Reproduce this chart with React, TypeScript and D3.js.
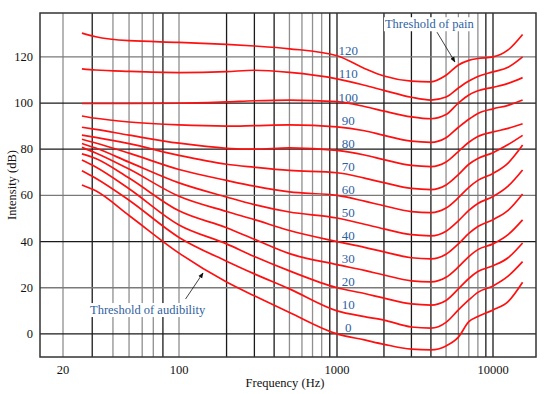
import * as d3 from 'd3'

const freqs = [26, 31.5, 50, 100, 200, 300, 500, 1000, 1500, 2000, 3000, 4000, 5000, 6000, 7000, 8000, 10000, 12500, 15500]

// sound level (dB) of each equal-loudness contour at those frequencies
const phon120 = [130.3, 128.7, 127, 126.3, 125.4, 124.7, 123.5, 120.5, 115, 111.7, 109.5, 109.2, 112, 116.5, 118.5, 119.3, 120, 123, 129.7]
const phon110 = [114.8, 114.3, 113.7, 113.2, 113.6, 114.2, 113.3, 110.5, 107.7, 105.5, 102.5, 101.3, 102.6, 106.5, 109.5, 111.5, 113.5, 115.5, 120]
const phon100 = [99.8, 99.8, 99.8, 99.9, 100.5, 101, 101.3, 100.6, 98.5, 96.5, 94, 93.2, 95, 100, 103.5, 105.3, 106.8, 108.5, 111]
const phon90 = [94.4, 93.4, 91.8, 90.5, 90, 90.2, 90.5, 89.7, 88, 86, 83.5, 83, 85, 89.5, 93, 95.5, 97.5, 99, 101.3]
const phon80 = [89.5, 88.6, 86.1, 82.6, 80.4, 80, 80.6, 79.5, 77.5, 75.5, 73, 72.5, 74.5, 79, 83, 85.5, 87.5, 89, 91]
const phon70 = [86.1, 85.1, 82.4, 77.3, 73.5, 72.2, 70.8, 69.8, 67.5, 65.5, 63, 62.5, 64.5, 69, 73.5, 76, 78.5, 82, 86]
const phon60 = [84.3, 82.7, 78.3, 71.2, 66.5, 64, 61.5, 60, 57.5, 55.5, 53, 52.5, 54.5, 59, 63.5, 66.5, 69.5, 74, 81.8]
const phon50 = [82.5, 80.5, 74.4, 65.4, 59.3, 56, 52.8, 50.2, 47.5, 45.5, 43, 42.5, 44.5, 49, 53.5, 56.5, 59.5, 64, 71]
const phon40 = [80.8, 78.4, 71.4, 59.6, 53, 49.5, 44.8, 40, 37.5, 35.5, 33, 32.5, 34.5, 39, 43.5, 46.5, 49.5, 53.5, 60.6]
const phon30 = [78, 76, 67.5, 53.3, 46, 41, 34.8, 30, 27.5, 25.5, 23, 22.5, 24.5, 29, 33.5, 36.5, 39, 43, 49.4]
const phon20 = [75.3, 72.3, 62.9, 47.2, 39, 33.5, 27.3, 20, 17.5, 15.5, 13, 12.5, 14.5, 19.5, 24, 27, 29.5, 33, 39.4]
const phon10 = [70.7, 67.4, 57.9, 41.8, 31.5, 26, 19.5, 10, 7.5, 6, 3, 2.5, 5, 10.4, 14.7, 18, 20.8, 25, 31.3]
const phon0 = [64.5, 62, 51.3, 35, 22.5, 16.5, 9.3, 0, -2.6, -4.5, -6.6, -6.9, -5.2, -1.4, 5.3, 7.5, 10.4, 14, 22.4]

const contours = [
  { phon: 120, levels: phon120 },
  { phon: 110, levels: phon110 },
  { phon: 100, levels: phon100 },
  { phon: 90, levels: phon90 },
  { phon: 80, levels: phon80 },
  { phon: 70, levels: phon70 },
  { phon: 60, levels: phon60 },
  { phon: 50, levels: phon50 },
  { phon: 40, levels: phon40 },
  { phon: 30, levels: phon30 },
  { phon: 20, levels: phon20 },
  { phon: 10, levels: phon10 },
  { phon: 0, levels: phon0 },
]

const xTickLabels = [20, 100, 1000, 10000]
const yTickLabels = [0, 20, 40, 60, 80, 100, 120]
const gridFreqs = [20, 30, 40, 50, 60, 70, 80, 100, 200, 300, 400, 500, 600, 700, 800, 900, 1000,
  2000, 3000, 4000, 5000, 6000, 7000, 8000, 9000, 10000]
const darkGridFreqs = [30, 80, 200, 300, 400, 900, 1000, 2000, 3000, 4000, 9000, 10000]
const darkGridLevels = [0, 40, 80, 100]

const labelFreq = 1180
const painNote = { text: 'Threshold of pain', at: [2030, 132.4], from: [4375, 130.7], to: [5700, 117.8] }
const audNote = { text: 'Threshold of audibility', at: [29.1, 8.6], from: [110, 15.1], to: [142, 26.4] }

const W = 550
const H = 394

export default function App() {
  // the printed figure's decades are not exactly even, so the log scale is piecewise
  const x = d3.scaleLog()
    .domain([14.6, 20, 100, 1000, 10000, 18900])
    .range([40, 63, 179, 337, 493, 536])
  const y = d3.scaleLinear().domain([-10, 139]).range([357, 13])
  const [x0, x1] = [x.range()[0], x.range()[5]]
  const [yb, yt] = y.range()

  const line = d3.line<number>()
    .x((_, i) => x(freqs[i]))
    .y((d) => y(d))
    .curve(d3.curveMonotoneX)

  const blue = '#2f5f9f'
  const serif = '"Liberation Serif", "Times New Roman", serif'

  return (
    <svg width={W} height={H} style={{ position: 'absolute', left: 0, top: 0, background: '#fff', fontFamily: serif }}>
      <defs>
        <marker id="arr" viewBox="0 0 10 10" refX="9" refY="5" markerWidth="7" markerHeight="7" orient="auto">
          <path d="M0,1 L10,5 L0,9 z" fill="#111" />
        </marker>
      </defs>

      {gridFreqs.map((f) => (
        <line key={'v' + f} x1={x(f)} x2={x(f)} y1={yt} y2={yb}
          stroke={darkGridFreqs.includes(f) ? '#1a1a1a' : '#8f8f8f'} strokeWidth={1.3} />
      ))}
      {yTickLabels.map((v) => (
        <line key={'h' + v} x1={x0} x2={x1} y1={y(v)} y2={y(v)}
          stroke={darkGridLevels.includes(v) ? '#1a1a1a' : '#7a7a7a'} strokeWidth={1.3} />
      ))}
      <rect x={x0} y={yt} width={x1 - x0} height={yb - yt} fill="none" stroke="#333" strokeWidth={1.5} />

      {contours.map((c) => (
        <path key={c.phon} d={line(c.levels) ?? undefined} fill="none" stroke="#ff1010" strokeWidth={1.7} />
      ))}

      {contours.map((c) => (
        <text key={'l' + c.phon} x={x(labelFreq)} y={y(c.phon) - 6} fill={blue} fontSize={13}
          textAnchor="middle" dominantBaseline="central">{c.phon}</text>
      ))}

      {[painNote, audNote].map((n) => (
        <g key={n.text}>
          <line x1={x(n.from[0])} y1={y(n.from[1])} x2={x(n.to[0])} y2={y(n.to[1])}
            stroke="#111" strokeWidth={0.8} markerEnd="url(#arr)" />
          <rect x={x(n.at[0]) - 1} y={y(n.at[1]) - 11} width={n.text.length * 5.3} height={14} fill="#fff" />
          <text x={x(n.at[0])} y={y(n.at[1])} fill={blue} fontSize={12.5}>{n.text}</text>
        </g>
      ))}

      {yTickLabels.map((v) => (
        <text key={'yt' + v} x={33} y={y(v)} fontSize={12.5} textAnchor="end" dominantBaseline="central" fill="#111">{v}</text>
      ))}
      {xTickLabels.map((f) => (
        <text key={'xt' + f} x={x(f)} y={370} fontSize={12.5} textAnchor="middle" dominantBaseline="central" fill="#111">{f}</text>
      ))}
      <text x={285} y={383} fontSize={12.5} textAnchor="middle" dominantBaseline="central" fill="#111">Frequency (Hz)</text>
      <text transform={`translate(12,${(yt + yb) / 2}) rotate(-90)`} fontSize={12.5} textAnchor="middle"
        dominantBaseline="central" fill="#111">Intensity (dB)</text>
    </svg>
  )
}
